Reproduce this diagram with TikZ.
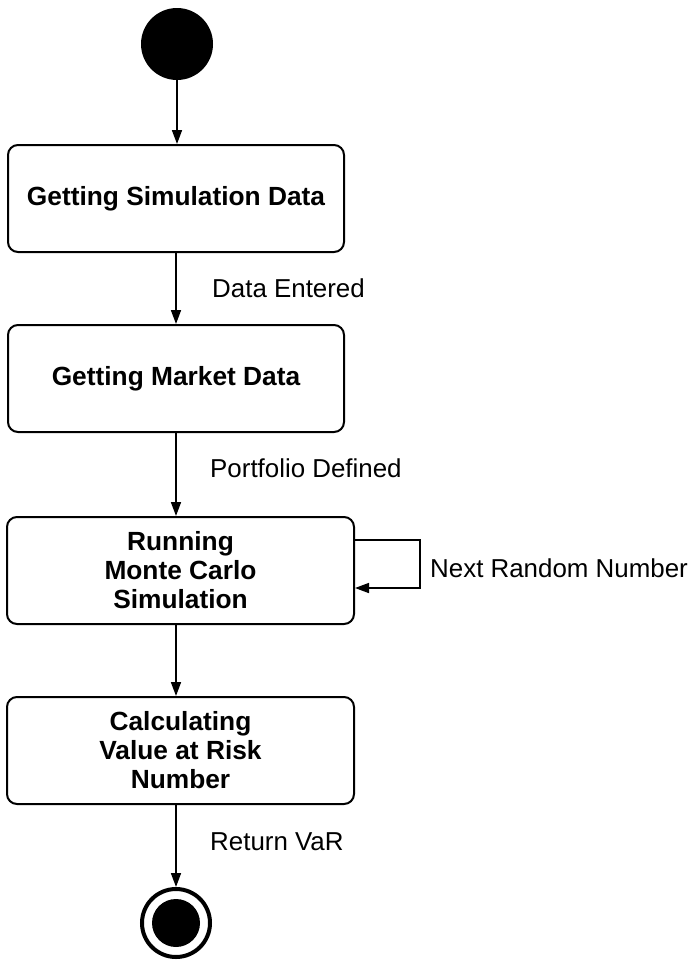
\documentclass[tikz,border=0pt]{standalone}
\usepackage{fontspec}
\setmainfont{Liberation Sans}
\usetikzlibrary{arrows.meta}
\begin{document}
\begin{tikzpicture}[x=1pt,y=-1pt,
  state/.style={draw,line width=2pt,rounded corners=10pt,minimum height=107pt,align=center,
    font=\fontsize{26.3}{29}\selectfont\bfseries,inner sep=0pt},
  flow/.style={line width=1.6pt,-{Triangle[length=14pt,width=10pt]}},
  lbl/.style={font=\fontsize{25.9}{30}\selectfont,anchor=base west,inner sep=0pt}]
\useasboundingbox (0,0) rectangle (696,961);
\node[circle,fill=black,minimum size=72pt,inner sep=0pt] (start) at (177,44) {};
\node[state,minimum width=336pt] (b1) at (176,198.5) {Getting Simulation Data};
\node[state,minimum width=336pt] (b2) at (176,378.5) {Getting Market Data};
\node[state,minimum width=347pt] (b3) at (180.5,570.5) {Running\\Monte Carlo\\Simulation};
\node[state,minimum width=347pt] (b4) at (180.5,750.5) {Calculating\\Value at Risk\\Number};
\node[circle,draw,line width=4pt,minimum size=68pt,inner sep=0pt] (end) at (176,923) {};
\node[circle,fill=black,minimum size=48pt,inner sep=0pt] (endin) at (176,923) {};
\coordinate (x1) at (176,0);
\draw[flow] (start.south) -- (start.south |- b1.north);
\draw[flow] (x1 |- b1.south) -- (x1 |- b2.north);
\draw[flow] (x1 |- b2.south) -- (x1 |- b3.north);
\draw[flow] (x1 |- b3.south) -- (x1 |- b4.north);
\draw[flow] (x1 |- b4.south) -- (end.north);
\coordinate (lt) at ([yshift=30.5pt]b3.east);
\coordinate (lb) at ([yshift=-17.5pt]b3.east);
\draw[flow] (lt) -- ++(65,0) |- (lb);
\node[lbl] (l1) at (212,297) {Data Entered};
\node[lbl] (l2) at (210,477) {Portfolio Defined};
\node[lbl] (l3) at (430,577) {Next Random Number};
\node[lbl] (l4) at (210,850) {Return VaR};
\end{tikzpicture}
\end{document}
